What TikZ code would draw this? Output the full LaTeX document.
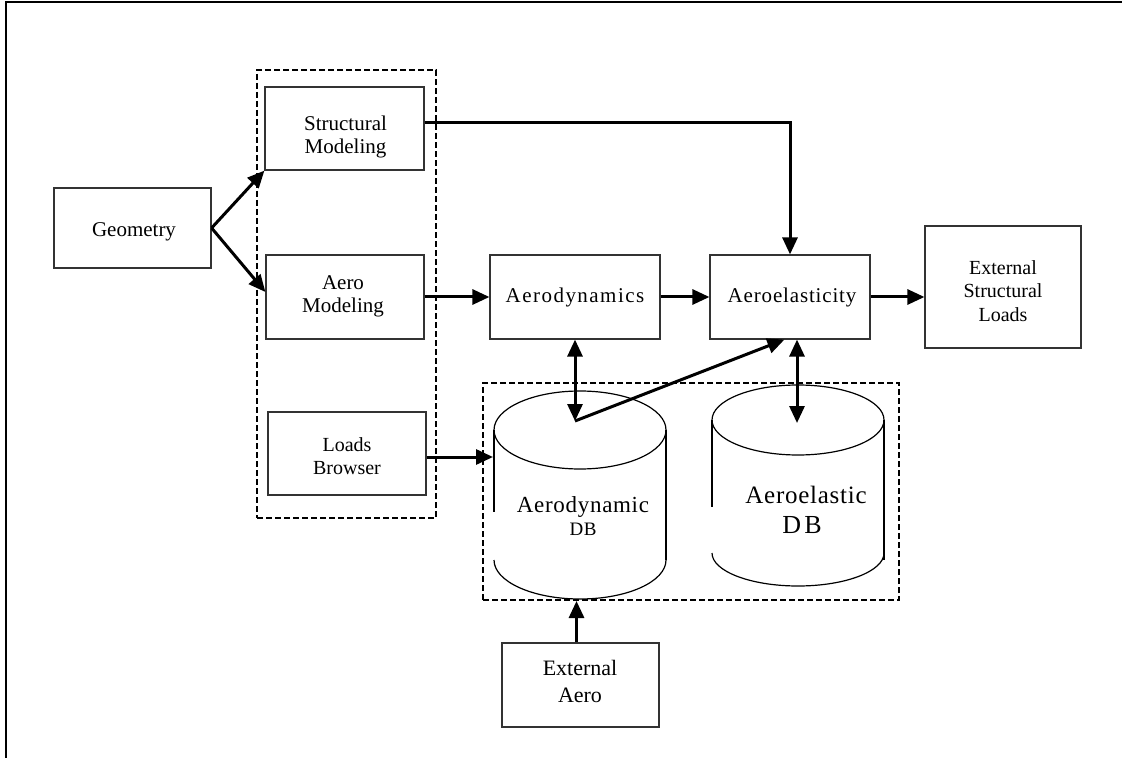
\documentclass[tikz,border=0pt]{standalone}
\usepackage{fontspec}
\setmainfont{Liberation Serif}
\usetikzlibrary{arrows.meta,calc}
\begin{document}
\begin{tikzpicture}[x=0.5pt,y=-0.5pt,
  box/.style={draw=black!80,line width=0.6pt,inner sep=0pt},
  txt/.style={align=center,inner sep=0pt,font=\fontsize{10.5}{11.5}\selectfont},
  grp/.style={draw,line width=1pt,dash pattern=on 3pt off 1.5pt,inner sep=0pt},
  tip/.tip={Triangle[length=8.5pt,width=7.5pt]},
  arr/.style={line width=1.5pt,-tip},
  darr/.style={line width=1.5pt,tip-tip},
  cyl/.style={draw=black,line width=0.6pt}]
\useasboundingbox (0,0) rectangle (1122,758);
% frame
\draw[line width=1pt] (6,758) -- (6,2.5) -- (1122,2.5);

% groups
\node[grp,minimum width=89.5pt,minimum height=224pt] (lgrp) at (346.5,294) {};
\node[grp,minimum width=208pt,minimum height=108.5pt] (dbgrp) at (691,491.5) {};

% boxes
\node[box,minimum width=78.5pt,minimum height=40pt] (geo) at (132.5,228) {};
\node[txt] (geo-t) at (134,232) {Geometry};
\node[box,minimum width=79.5pt,minimum height=41.5pt] (struct) at (344.5,128.5) {};
\node[txt] (struct-t) at (345.5,137) {Structural\\Modeling};
\node[box,minimum width=79pt,minimum height=42pt] (aeromod) at (345,297) {};
\node[txt] (aeromod-t) at (343,296) {Aero\\Modeling};
\node[box,minimum width=79pt,minimum height=41.5pt] (loads) at (347,453.5) {};
\node[txt,font=\fontsize{10}{11.5}\selectfont] (loads-t) at (347,456) {Loads\\Browser};
\node[box,minimum width=85pt,minimum height=42pt] (aerodyn) at (575,297) {};
\node[txt,anchor=base,font=\fontsize{10.5}{11.5}\selectfont\addfontfeature{LetterSpace=7}] (aerodyn-t) at (575,303) {Aerodynamics};
\node[box,minimum width=80pt,minimum height=42pt] (aeroel) at (790,297) {};
\node[txt,anchor=base,font=\fontsize{10.5}{11.5}\selectfont\addfontfeature{LetterSpace=4}] (aeroel-t) at (792,303) {Aeroelasticity};
\node[box,minimum width=78pt,minimum height=61pt] (extload) at (1003,287) {};
\node[txt,font=\fontsize{10}{11.7}\selectfont] (extload-t) at (1003,291) {External\\Structural\\Loads};
\node[box,minimum width=78.5pt,minimum height=42pt] (extaero) at (580.5,685) {};
\node[txt,font=\fontsize{11}{13.5}\selectfont] (extaero-t) at (580,681) {External\\Aero};

% cylinder: Aerodynamic DB
\draw[cyl] (580,430) ellipse [x radius=86, y radius=39];
\draw[cyl] (494,430) -- (494,512);
\draw[cyl] (666,430) -- (666,560);
\draw[cyl] (494,560) arc [start angle=180, end angle=0, x radius=86, y radius=39];
\node[txt,anchor=base,font=\fontsize{11.5}{13}\selectfont\addfontfeature{LetterSpace=3}] (adb-t1) at (583,512) {Aerodynamic};
\node[txt,anchor=base,font=\fontsize{9.5}{11}\selectfont\addfontfeature{LetterSpace=3}] (adb-t2) at (583,535) {DB};

% cylinder: Aeroelastic DB
\draw[cyl] (798,420) ellipse [x radius=86, y radius=35];
\draw[cyl] (712,420) -- (712,507);
\draw[cyl] (884,420) -- (884,560);
\draw[cyl] (712,553) arc [start angle=180, end angle=0, x radius=86, y radius=33];
\node[txt,anchor=base,font=\fontsize{12.5}{14}\selectfont\addfontfeature{LetterSpace=3}] (aedb-t1) at (806,503) {Aeroelastic};
\node[txt,anchor=base,font=\fontsize{13}{14}\selectfont\addfontfeature{LetterSpace=12}] (aedb-t2) at (802,533) {DB};

% connector end points
\coordinate (adb-top) at (575,421);
\coordinate (aedb-top) at (797,423);
\coordinate (adb-w) at (493,457);

% connectors
\draw[arr] (geo.east) -- (struct.south west);
\draw[arr] (geo.east) -- ([yshift=2.5pt]aeromod.west);
\draw[arr] ([yshift=2.75pt]struct.east) -| (aeroel.north);
\draw[arr] (aeromod.east) -- (aerodyn.west);
\draw[arr] (aerodyn.east) -- (aeroel.west);
\draw[arr] (aeroel.east) -- (aeroel.east -| extload.west);
\draw[darr] (aerodyn.south) -- (adb-top);
\draw[arr] (adb-top) -- ([xshift=37.5pt]aeroel.south west);
\draw[darr] ([xshift=3.5pt]aeroel.south) -- (aedb-top);
\draw[arr] ([yshift=-1.75pt]loads.east) -- (adb-w);
\draw[arr] ([xshift=-2pt]extaero.north) -- ([xshift=-2pt]extaero.north |- dbgrp.south);
\end{tikzpicture}
\end{document}
